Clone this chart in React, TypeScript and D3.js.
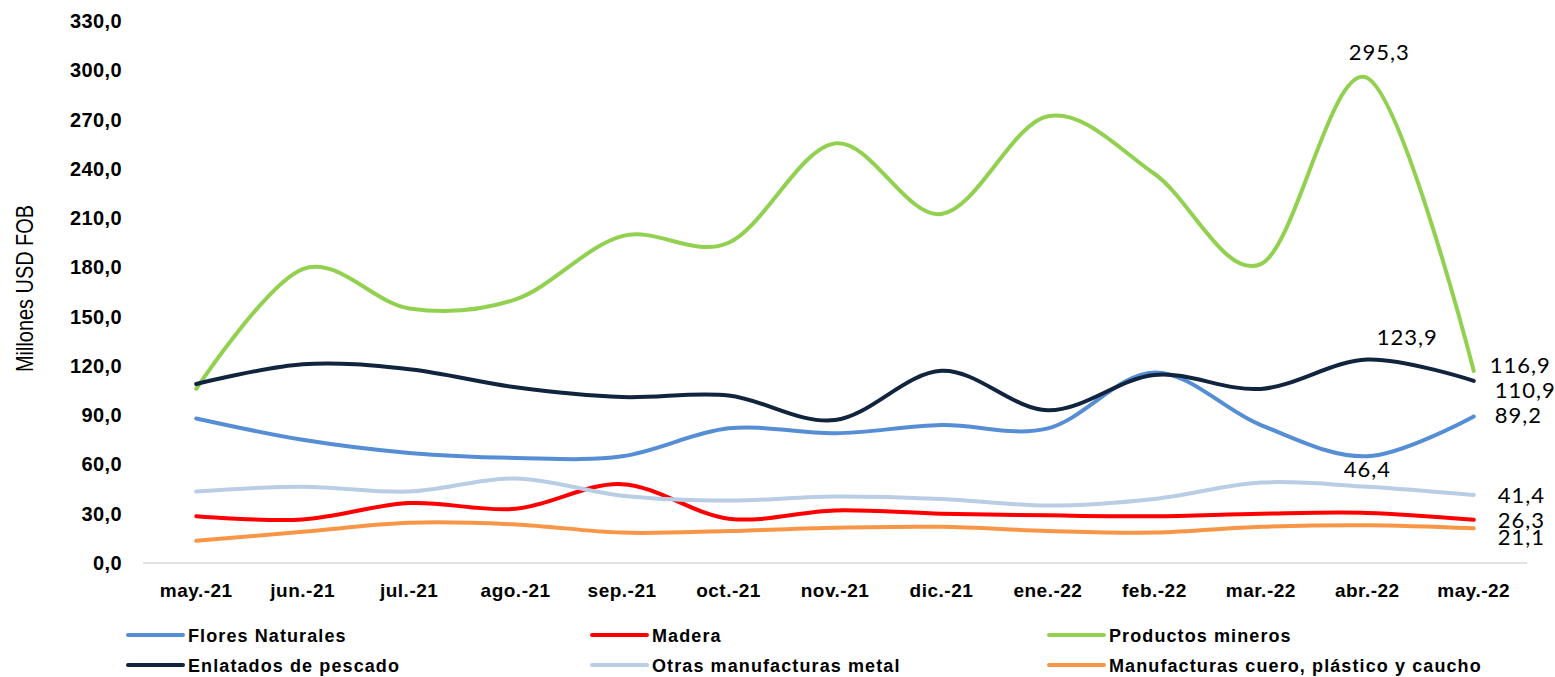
import React from "react";
import * as d3 from "d3";

const months = ["may.-21","jun.-21","jul.-21","ago.-21","sep.-21","oct.-21","nov.-21","dic.-21","ene.-22","feb.-22","mar.-22","abr.-22","may.-22"];
const flores = [88, 75, 67, 64, 65, 82, 79, 84, 82, 116, 84, 65, 89.2];
const madera = [28.5, 26.5, 36.5, 33, 48, 27, 32, 30, 29, 28.5, 30, 30.5, 26.3];
const mineros = [106, 179, 155, 160.5, 199, 195, 255.5, 212.5, 272, 237, 182, 295.3, 116.9];
const enlatados = [109, 121, 118, 107, 101, 102, 87, 117, 93, 114.5, 106, 123.9, 110.9];
const otras = [43.5, 46.5, 43.5, 51.5, 41, 38, 40.5, 39, 35, 39, 49, 46.4, 41.4];
const cuero = [13.5, 19, 24.5, 23.5, 18.5, 19.5, 21.5, 22, 19.5, 18.5, 22, 23, 21.1];
const yTicks = [0, 30, 60, 90, 120, 150, 180, 210, 240, 270, 300, 330];

const seriesList = [
  { name: "Flores Naturales", values: flores, color: "#558ED5" },
  { name: "Madera", values: madera, color: "#FF0000" },
  { name: "Productos mineros", values: mineros, color: "#92D050" },
  { name: "Enlatados de pescado", values: enlatados, color: "#10243E" },
  { name: "Otras manufacturas metal", values: otras, color: "#B9CDE5" },
  { name: "Manufacturas cuero, plástico y caucho", values: cuero, color: "#F79646" },
];

// data labels: series index, month index, offset, anchor
const dataLabels = [
  { s: 2, i: 11, dx: 12, dy: -18, anchor: "middle" },
  { s: 3, i: 11, dx: 40, dy: -15, anchor: "middle" },
  { s: 2, i: 12, dx: 16, dy: 2, anchor: "start" },
  { s: 3, i: 12, dx: 21, dy: 17.5, anchor: "start" },
  { s: 0, i: 12, dx: 21, dy: 6.5, anchor: "start" },
  { s: 4, i: 11, dx: 0, dy: -10, anchor: "middle" },
  { s: 4, i: 12, dx: 24, dy: 8, anchor: "start" },
  { s: 1, i: 12, dx: 24, dy: 8.5, anchor: "start" },
  { s: 5, i: 12, dx: 24, dy: 17, anchor: "start" },
];

const fmt = (v: number) => v.toFixed(1).replace(".", ",");

export default function App() {
  const W = 1555, H = 677;
  const x = d3.scalePoint<string>().domain(months).range([143, 1527]).padding(0.5);
  const y = d3.scaleLinear().domain([0, 330]).range([563, 21]);
  const line = d3
    .line<number>()
    .x((_, i) => x(months[i]) as number)
    .y((d) => y(d))
    .curve(d3.curveCardinal.tension(0));

  const font = "'Liberation Sans', Arial, sans-serif";
  const legendCols = [128, 592, 1049];
  const legendRows = [635, 665];

  return (
    <svg width={W} height={H} style={{ position: "absolute", left: 0, top: 0, background: "#fff" }} fontFamily={font}>
      <rect width={W} height={H} fill="#fff" />
      {yTicks.map((t) => (
        <text key={t} x={122} y={y(t) + 7} textAnchor="end" fontSize={20} fontWeight="bold" letterSpacing={0.4} fill="#000">
          {fmt(t)}
        </text>
      ))}
      <text
        transform={`translate(33, 288.5) rotate(-90)`}
        textAnchor="middle"
        fontSize={24}
        textLength={167}
        lengthAdjust="spacingAndGlyphs"
        fill="#000"
      >
        Millones USD FOB
      </text>
      <line x1={143} x2={1527} y1={y(0)} y2={y(0)} stroke="#D9D9D9" strokeWidth={1.5} />
      {months.map((m) => (
        <text key={m} x={x(m)} y={597} textAnchor="middle" fontSize={19} fontWeight="bold" letterSpacing={0.5} fill="#000">
          {m}
        </text>
      ))}
      {seriesList.map((s) => (
        <path key={s.name} d={line(s.values) || ""} fill="none" stroke={s.color} strokeWidth={4} strokeLinecap="round" strokeLinejoin="round" />
      ))}
      {dataLabels.map((l, k) => {
        const s = seriesList[l.s];
        const v = s.values[l.i];
        return (
          <text
            key={k}
            x={(x(months[l.i]) as number) + l.dx}
            y={y(v) + l.dy}
            textAnchor={l.anchor as any}
            fontFamily="Lato, 'Open Sans', sans-serif"
            fontSize={22}
            letterSpacing={1}
            fill="#000"
          >
            {fmt(v)}
          </text>
        );
      })}
      {seriesList.map((s, i) => {
        const cx = legendCols[i % 3];
        const cy = legendRows[Math.floor(i / 3)];
        return (
          <g key={s.name}>
            <line x1={cx} x2={cx + 55} y1={cy} y2={cy} stroke={s.color} strokeWidth={4} strokeLinecap="round" />
            <text x={cx + 60} y={cy + 7} fontSize={18} fontWeight="bold" letterSpacing={1.1} fill="#000">
              {s.name}
            </text>
          </g>
        );
      })}
    </svg>
  );
}
